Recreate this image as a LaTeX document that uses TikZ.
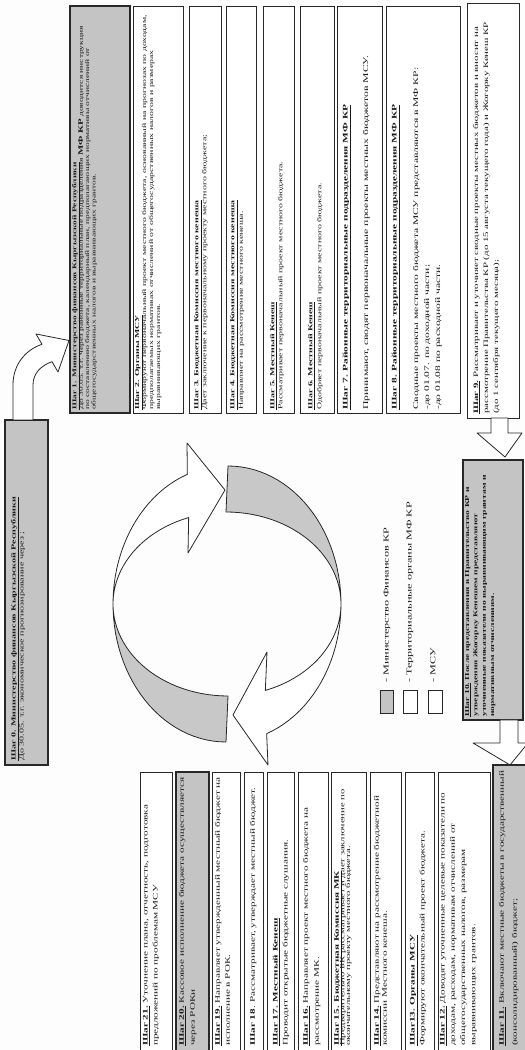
\documentclass[tikz,border=0pt]{standalone}
\usepackage{fontspec}
\setmainfont{Liberation Serif}[FakeStretch=1.6]
\definecolor{boxgray}{RGB}{196,196,196}
\definecolor{cgray}{RGB}{200,200,200}
\definecolor{ink}{RGB}{25,25,25}
\definecolor{edge}{RGB}{40,40,40}
\definecolor{paper}{RGB}{253,253,253}
\lineskiplimit=-50pt
\tikzset{
  wbox/.style={draw=edge, line width=0.9pt, fill=white},
  gbox/.style={draw=edge, line width=1.2pt, fill=boxgray},
  txt/.style={inner sep=0pt, anchor=north west, align=left, text=ink},
  toptxt/.style={txt, font=\fontsize{6.1}{7}\selectfont},
  bottxt/.style={txt, font=\fontsize{7}{10}\selectfont},
  shapeline/.style={draw=edge, line width=0.8pt, line join=round},
  legtxt/.style={inner sep=0pt, anchor=west, text=ink, font=\fontsize{7.6}{9}\selectfont},
}
\newcommand{\ttl}[1]{\textbf{\underline{#1}}}
\begin{document}
\begin{tikzpicture}[x=1pt,y=-1pt,rotate=90,transform shape]
\path[use as bounding box] (0,0) rectangle (1050,525);
\clip (0,0) rectangle (1050,525);
\fill[paper] (0,0) rectangle (1050,525);

% ---------- Step 0 and bent arrow ----------
\draw[gbox] (285,5) rectangle (630,48);
\node[txt, font=\fontsize{6.3}{8}\selectfont] (t0) at (289,11)
  {\ttl{Шаг 0. Министерство финансов Кыргызской Республики}\\
   До 30.05. т.г. экономическое прогнозирование через ;};
\draw[shapeline, fill=white] (630,13) -- (665,13)
  .. controls (685,13) and (700,25) .. (705.7,42) -- (716,36) -- (709.5,69)
  -- (678,58) -- (688.3,52) .. controls (684,40) and (676,33) .. (665,33)
  -- (630,33) -- cycle;

% ---------- right column of steps ----------
\draw[gbox] (637,70) rectangle (1044,130);
\draw[wbox] (637,133) rectangle (1044,183);
\draw[wbox] (637,189) rectangle (1044,221);
\draw[wbox] (637,226) rectangle (1044,256);
\draw[wbox] (637,263) rectangle (1044,294);
\draw[wbox] (637,300) rectangle (1044,334);
\draw[wbox] (637,337) rectangle (1044,382);
\draw[wbox] (637,386) rectangle (1044,460);
\draw[wbox] (632,467) rectangle (1047,519);

\node[txt, font=\fontsize{5.9}{6.4}\selectfont] (t1) at (640,72)
  {\ttl{Шаг 1. Министерство финансов Кыргызской Республики}\\
   До 30.05. т.г. через районные территориальные подразделения {\fontsize{6.8}{6.4}\selectfont\textbf{МФ КР}} доводится инструкция\\
   по составлению бюджета, календарный план, предполагающих нормативы отчислений от\\
   общегосударственных налогов и выравнивающих грантов.};
\node[toptxt] (t2) at (640,135)
  {\ttl{Шаг 2. Органы МСУ}\\
   Формируют первоначальный проект местного бюджета, основанный на прогнозах по доходам,\\
   предполагаемых нормативах отчислений от общегосударственных налогов и размерах\\
   выравнивающих грантов.};
\node[txt, font=\fontsize{6.2}{8}\selectfont] (t3) at (640,194)
  {\ttl{Шаг 3. Бюджетная Комиссия местного кенеша}\\
   Дает заключение к первоначальному проекту местного бюджета;};
\node[txt, font=\fontsize{6.2}{8.5}\selectfont] (t4) at (640,230)
  {\ttl{Шаг 4. Бюджетная Комиссия местного кенеша}\\
   Направляет на рассмотрение местного кенеша.};
\node[txt, font=\fontsize{6.2}{8}\selectfont] (t5) at (640,270)
  {\ttl{Шаг 5. Местный Кенеш}\\
   Рассматривает первоначальный проект местного бюджета.};
\node[txt, font=\fontsize{6.2}{9}\selectfont] (t6) at (640,308)
  {\ttl{Шаг 6. Местный Кенеш}\\
   Одобряет первоначальный проект местного бюджета.};
\node[txt, font=\fontsize{7.1}{9}\selectfont] (t7a) at (640,342.5)
  {\ttl{Шаг 7. Районные территориальные подразделения МФ КР}};
\node[txt, font=\fontsize{7.3}{9}\selectfont] (t7b) at (640,362.7)
  {Принимают, сводят первоначальные проекты местных бюджетов МСУ.};
\node[txt, font=\fontsize{7.1}{9}\selectfont] (t8a) at (640,391.5)
  {\ttl{Шаг 8. Районные территориальные подразделения МФ КР}};
\node[txt, font=\fontsize{7.2}{11}\selectfont] (t8b) at (640,412.7)
  {Сводные проекты местного бюджета МСУ представляются в МФ КР:\\
   -до 01.07. по доходной части;\\
   -до 01.08 по расходной части.};
\node[txt, font=\fontsize{6.8}{10}\selectfont] (t9) at (636,473)
  {\ttl{Шаг 9.} Рассматривает и уточняет сводные проекты местных бюджетов и вносит на\\
   рассмотрение Правительства КР (до 15 августа текущего года) и Жогорку Кенеш КР\\
   (до 1 сентября текущего месяца);};

% ---------- step 10 and block arrows ----------
\draw[gbox] (330,463) rectangle (590,523);
\node[txt, font=\fontsize{6}{8.3}\selectfont\bfseries] (t10) at (333,465)
  {\underline{Шаг 10.} После представления в Правительство КР и\\
   утверждения Жогорку Кенешем представляют\\
   уточненные показатели по выравнивающим грантам и\\
   нормативным отчислениям.};
\draw[shapeline, fill=white] (632,491) -- (617,491) -- (617,477) -- (593,505)
  -- (617,522) -- (617,508) -- (632,508) -- cycle;
\draw[shapeline, fill=white] (330,500) -- (307,500) -- (307,473) -- (285,510)
  -- (307,528) -- (307,518) -- (330,518) -- cycle;

% ---------- left column of steps ----------
\draw[wbox] (-5,140) rectangle (278,172);
\draw[gbox] (-5,176) rectangle (278,209);
\draw[wbox] (-5,212) rectangle (278,240);
\draw[wbox] (-5,244) rectangle (278,263);
\draw[wbox] (-5,267) rectangle (278,294);
\draw[wbox] (-5,298) rectangle (278,328);
\draw[wbox] (-5,331) rectangle (278,366);
\draw[wbox] (-5,370) rectangle (278,401);
\draw[wbox] (-5,405) rectangle (278,434);
\draw[wbox] (-5,438) rectangle (278,490);
\draw[gbox] (-5,493) rectangle (285,530);

\node[bottxt] (t21) at (4,142.7)
  {\ttl{Шаг 21.} Уточнение плана, отчетность, подготовка\\ предложений по проблемам МСУ};
\node[txt, font=\fontsize{7}{11}\selectfont] (t20) at (4,178.7)
  {\ttl{Шаг 20.} Кассовое исполнение бюджета осуществляется\\ через РОКи};
\node[bottxt] (t19) at (4,214.7)
  {\ttl{Шаг 19.} Направляет утвержденный местный бюджет на\\ исполнение в РОК.};
\node[bottxt] (t18) at (4,249.7)
  {\textbf{Шаг 18}. Рассматривает, утверждает местный бюджет.};
\node[bottxt] (t17) at (4,272.7)
  {\ttl{Шаг 17. Местный Кенеш}\\ Проводит открытые бюджетные слушания.};
\node[txt, font=\fontsize{7}{11}\selectfont] (t16) at (4,302.7)
  {\ttl{Шаг 16.} Направляет проект местного бюджета на\\ рассмотрение МК.};
\node[txt, font=\fontsize{7}{5.6}\selectfont] (t15) at (4,334)
  {\ttl{Шаг 15. Бюджетная Комиссия МК}\\
   {\fontsize{6.6}{5.6}\selectfont Предварительно БК рассматривает и дает заключение по}\\
   {\fontsize{6.6}{5.8}\selectfont окончательному проекту местного бюджета.}};
\node[txt, font=\fontsize{7}{8}\selectfont] (t14) at (4,373.7)
  {\ttl{Шаг 14.} Представляют на рассмотрение бюджетной\\ комиссии Местного кенеша.};
\node[bottxt] (t13) at (4,409.7)
  {\ttl{Шаг13. Органы МСУ}\\ Формируют окончательный проект бюджета.};
\node[txt, font=\fontsize{7}{10.3}\selectfont] (t12) at (4,439.7)
  {\ttl{Шаг 12.} Доводят уточненные целевые показатели по\\
   доходам, расходам, нормативам отчислений от\\
   общегосударственных налогов, размерам\\
   выравнивающих грантов.};
\node[txt, font=\fontsize{7}{13}\selectfont] (t11) at (4,498.7)
  {\ttl{Шаг 11.} Включают местные бюджеты в государственный\\ (консолидированный) бюджет;};

% ---------- circular arrows ----------
% arrow A (over the top, head on the right)
\path[fill=white]
  plot[domain=180:340, samples=50] ({446+138*cos(\x)},{226+113*sin(\x)})
  -- (607,187) -- (560,225) -- (497,188)
  -- plot[domain=340:180, samples=50] ({446+92*cos(\x)},{228+115*sin(\x)}) -- cycle;
\path[fill=cgray]
  plot[domain=180:270, samples=40] ({446+138*cos(\x)},{226+113*sin(\x)})
  -- plot[domain=270:180, samples=40] ({446+92*cos(\x)},{228+115*sin(\x)}) -- cycle;
\draw[shapeline]
  plot[domain=180:340, samples=50] ({446+138*cos(\x)},{226+113*sin(\x)})
  -- (607,187) -- (560,225) -- (497,188)
  -- plot[domain=340:180, samples=50] ({446+92*cos(\x)},{228+115*sin(\x)}) -- cycle;
% arrow B (under the bottom, head on the left)
\path[fill=white]
  plot[domain=0:160, samples=50] ({446+138*cos(\x)},{228+113*sin(\x)})
  -- (285,268) -- (335,233) -- (398,267)
  -- plot[domain=160:0, samples=50] ({446+92*cos(\x)},{226+115*sin(\x)}) -- cycle;
\path[fill=cgray]
  plot[domain=0:90, samples=40] ({446+138*cos(\x)},{228+113*sin(\x)})
  -- plot[domain=90:0, samples=40] ({446+92*cos(\x)},{226+115*sin(\x)}) -- cycle;
\draw[shapeline]
  plot[domain=0:160, samples=50] ({446+138*cos(\x)},{228+113*sin(\x)})
  -- (285,268) -- (335,233) -- (398,267)
  -- plot[domain=160:0, samples=50] ({446+92*cos(\x)},{226+115*sin(\x)}) -- cycle;

% ---------- legend ----------
\draw[draw=edge, line width=0.8pt, fill=boxgray] (337,380) rectangle (360,393);
\draw[draw=edge, line width=0.8pt, fill=white] (337,403) rectangle (360,417);
\draw[draw=edge, line width=0.8pt, fill=white] (337,428) rectangle (360,442);
\node[legtxt] (l1) at (367,387) {- Министерство Финансов КР};
\node[legtxt] (l2) at (367,410) {- Территориальные органы МФ КР};
\node[legtxt] (l3) at (367,433) {- МСУ};
\end{tikzpicture}
\end{document}
